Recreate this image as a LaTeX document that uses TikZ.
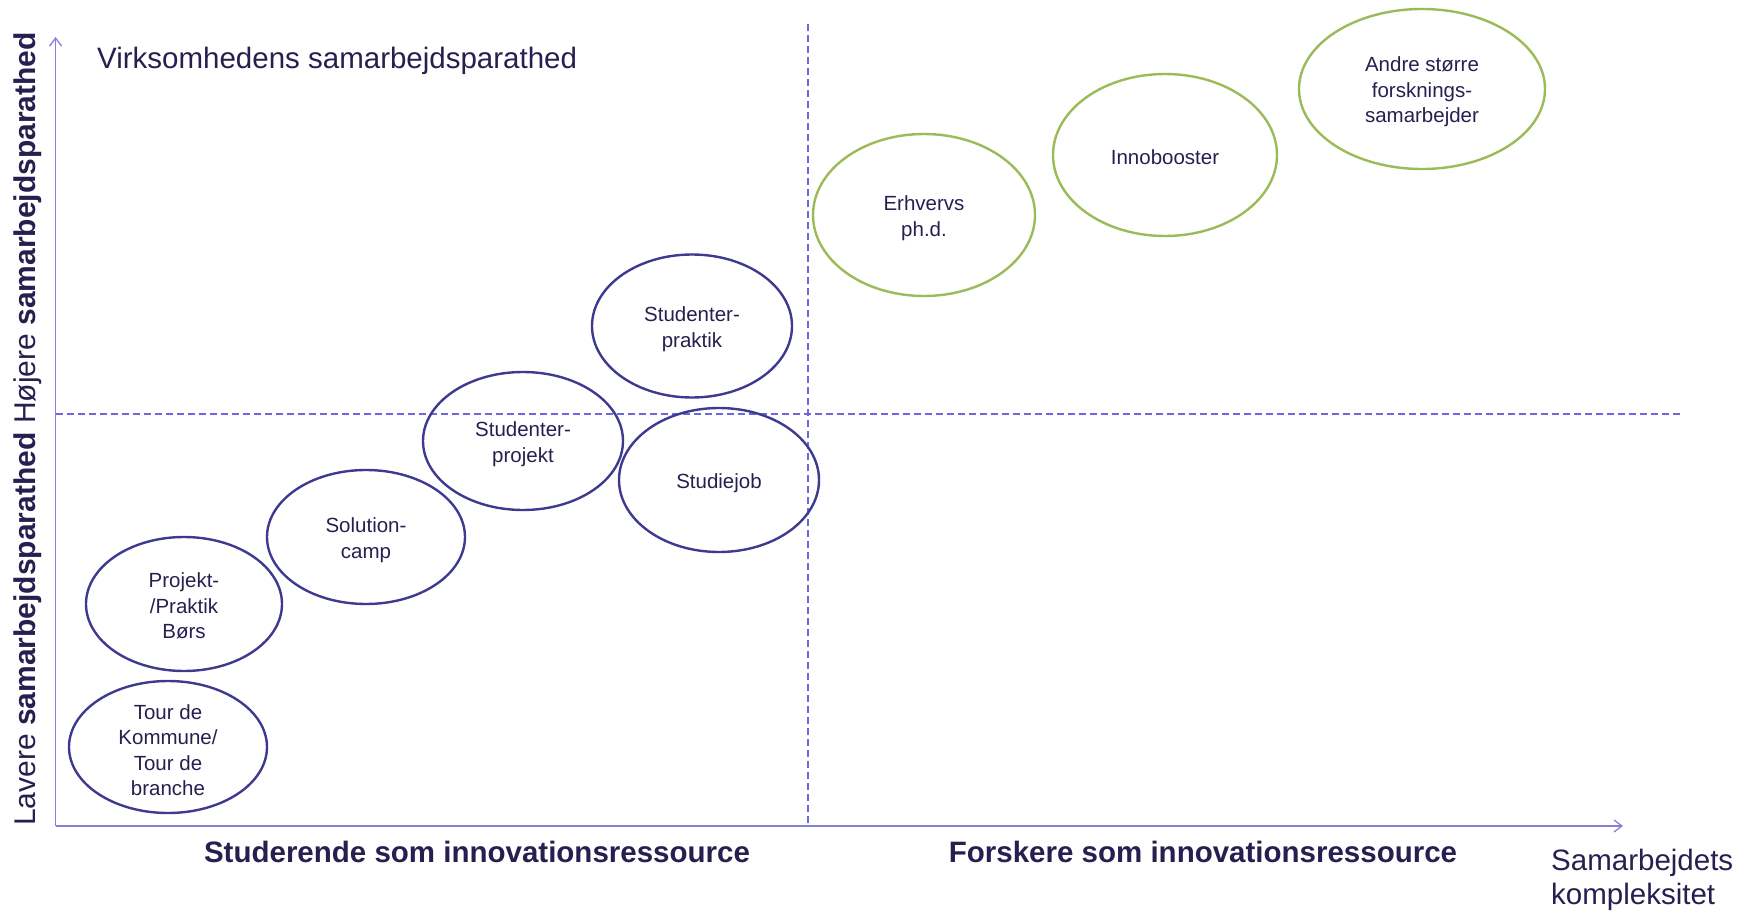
\documentclass[tikz,border=0pt]{standalone}
\usepackage{fontspec}
\setmainfont{Liberation Sans}
\usetikzlibrary{shapes.geometric,arrows.meta}
\definecolor{textc}{HTML}{25204F}
\definecolor{ellc}{HTML}{3D3A8F}
\definecolor{axisc}{HTML}{8580D8}
\definecolor{dashc}{HTML}{6F65DD}
\definecolor{greenc}{HTML}{9BBB59}
\tikzset{
  blob/.style={ellipse, draw=ellc, line width=2.4pt, inner sep=0pt},
  gblob/.style={blob, draw=greenc},
  lbl/.style={align=center, inner sep=0pt, text=textc, font=\fontsize{20.5}{25.5}\selectfont},
  axisline/.style={draw=axisc, line width=1.6pt, -{Straight Barb[length=8pt,width=12pt,line width=1.3pt]}},
  divider/.style={draw=dashc, line width=1.2pt, dash pattern=on 7pt off 4pt},
  bigtext/.style={text=textc, font=\fontsize{29.5}{34}\selectfont, inner sep=0pt},
  boldtext/.style={bigtext, font=\fontsize{29.5}{34}\selectfont\bfseries},
  sidetext/.style={text=textc, font=\fontsize{30}{34}\selectfont, inner sep=0pt}
}
\begin{document}
\begin{tikzpicture}[x=1pt,y=-1pt]
\useasboundingbox (0,0) rectangle (1745,917);
% axes
\coordinate (O) at (55.6,826);
\coordinate (yend) at (55.6,37);
\coordinate (xend) at (1623,826);
\coordinate (vtop) at (808,24);
\coordinate (vbot) at (808,826);
\coordinate (hleft) at (55.6,414);
\coordinate (hright) at (1681,414);
\draw[divider] (vtop) -- (vbot);
\draw[divider] (hleft) -- (hright);
\draw[axisline] (O) -- (yend);
\draw[axisline] (O) -- (xend);
% ellipses
\node[blob, minimum width=198pt, minimum height=132pt] (tour) at (168,747) {};
\node[blob, minimum width=196pt, minimum height=134pt] (projekt) at (184,604) {};
\node[blob, minimum width=198pt, minimum height=134pt] (solution) at (366,537) {};
\node[blob, minimum width=200pt, minimum height=138pt] (sprojekt) at (523,441) {};
\node[blob, minimum width=200pt, minimum height=143pt] (spraktik) at (692,326) {};
\node[blob, minimum width=200pt, minimum height=144pt] (studiejob) at (719,480) {};
\node[gblob, minimum width=222pt, minimum height=162pt] (erhverv) at (924,215) {};
\node[gblob, minimum width=224pt, minimum height=162pt] (inno) at (1165,155) {};
\node[gblob, minimum width=246pt, minimum height=160pt] (andre) at (1422,89) {};
% ellipse texts
\node[lbl] (tourT) at ([yshift=-3pt]tour.center) {Tour de\\Kommune/\\Tour de\\branche};
\node[lbl] (projektT) at ([yshift=-2pt]projekt.center) {Projekt-\\/Praktik\\Børs};
\node[lbl] (solutionT) at ([yshift=-3pt]solution.center) {Solution-\\camp};
\node[lbl] (sprojektT) at ([yshift=-3pt]sprojekt.center) {Studenter-\\projekt};
\node[lbl] (spraktikT) at ([yshift=-3pt]spraktik.center) {Studenter-\\praktik};
\node[lbl] (studiejobT) at ([yshift=-3pt]studiejob.center) {Studiejob};
\node[lbl] (erhvervT) at ([yshift=-3pt]erhverv.center) {Erhvervs\\ph.d.};
\node[lbl] (innoT) at ([yshift=-2pt]inno.center) {Innobooster};
\node[lbl] (andreT) at ([yshift=-3pt]andre.center) {Andre større\\forsknings-\\samarbejder};
% texts
\node[bigtext, anchor=west] (title) at (97,61) {Virksomhedens samarbejdsparathed};
\node[boldtext] (stud) at (477,852) {Studerende som innovationsressource};
\node[boldtext] (forsk) at (1203,852) {Forskere som innovationsressource};
\node[bigtext, anchor=west, align=left] (kompl) at (1551,880) {Samarbejdets\\kompleksitet};
\node[sidetext, rotate=90] (ylabel) at (28,429) {Lavere \textbf{samarbejdsparathed} Højere \textbf{samarbejdsparathed}};
\end{tikzpicture}
\end{document}
